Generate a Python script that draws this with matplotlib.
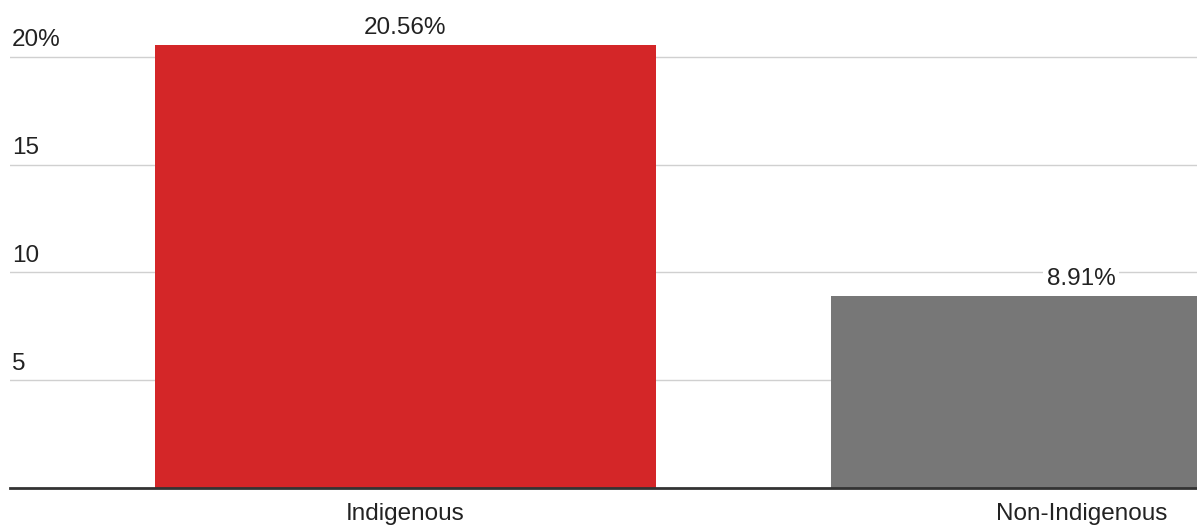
import matplotlib.pyplot as plt
import matplotlib.transforms as mtransforms

categories = ['Indigenous', 'Non-Indigenous']
values = [20.56, 8.91]
value_labels = ['20.56%', '8.91%']
bar_colors = ['#d42628', '#777777']
y_ticks = [5, 10, 15, 20]
y_tick_labels = ['5', '10', '15', '20%']

plt.rcParams['font.family'] = ['Liberation Sans', 'DejaVu Sans']
FS = 17.5

W, H = 1197, 525
fig = plt.figure(figsize=(W / 100, H / 100), dpi=100)
# axes from x=10px to right edge (second bar is cut off), baseline at y=488px
ax = fig.add_axes([10 / W, 1 - 488 / H, 1 - 10 / W, 488 / H - 0.005])

x = list(range(len(categories)))
ax.bar(x, values, width=0.741, color=bar_colors, zorder=2)
ax.set_xlim(-0.585, 1.171)
ax.set_ylim(0, 22.52)

# gridlines
for t in y_ticks:
    ax.axhline(t, color='#d0d0d0', lw=1, zorder=1)

# y tick labels sitting above gridlines
trans = mtransforms.blended_transform_factory(ax.transAxes, ax.transData)
for t, lab in zip(y_ticks, y_tick_labels):
    ax.annotate(lab, xy=(0, t), xycoords=trans, xytext=(1.5, 4),
                textcoords='offset points', ha='left', va='bottom',
                fontsize=FS, color='#222222')

# value labels with white box
for xi, v, lab in zip(x, values, value_labels):
    ax.annotate(lab, xy=(xi, v), xytext=(0, 4), textcoords='offset points',
                ha='center', va='bottom', fontsize=FS, color='#222222', zorder=4,
                bbox=dict(boxstyle='square,pad=0.15', fc='white', ec='none'))

ax.set_yticks([])
ax.set_xticks(x)
ax.set_xticklabels(categories, fontsize=FS, color='#222222')
ax.tick_params(axis='x', length=0, pad=10.5)

for s in ['top', 'right', 'left']:
    ax.spines[s].set_visible(False)
ax.spines['bottom'].set_color('#333333')
ax.spines['bottom'].set_linewidth(2)
ax.spines['bottom'].set_zorder(3)

fig.savefig('out.png', dpi=100)
